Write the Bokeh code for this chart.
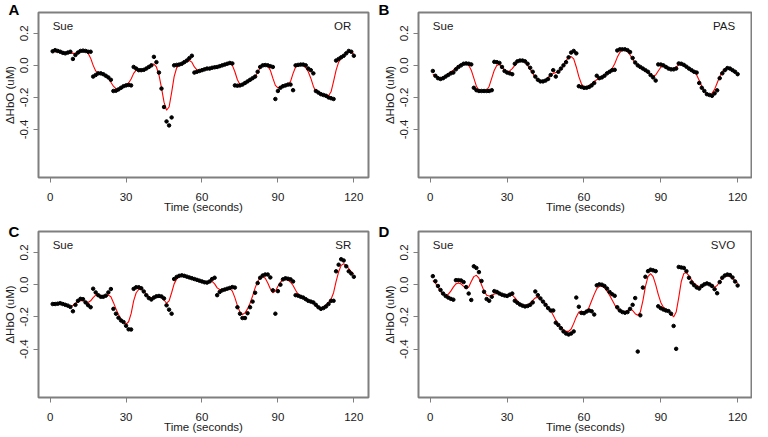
from bokeh.plotting import figure
from bokeh.models import ColumnDataSource, FixedTicker, PrintfTickFormatter, Range1d
from bokeh.layouts import column, row
from bokeh.core.properties import value
from bokeh.embed import file_html
from bokeh.resources import INLINE

# ---------------- data ----------------
time = list(range(1, 121))
x_ticks = [0, 30, 60, 90, 120]
y_ticks = [-0.4, -0.2, 0.0, 0.2]
subject = "Sue"
panel_letters = ["A", "B", "C", "D"]
conditions = ["OR", "PAS", "SR", "SVO"]

or_points = [0.088, 0.095, 0.09, 0.085, 0.078, 0.075, 0.08, 0.085, 0.04, 0.065,
             0.08, 0.09, 0.092, 0.09, 0.085, 0.085,
             -0.07, -0.06, -0.05, -0.05, -0.055, -0.065, -0.075, -0.09,
             -0.16, -0.158, -0.15, -0.14, -0.13, -0.125, -0.122, -0.125,
             -0.01, -0.02, -0.03, -0.03, -0.028, -0.02, -0.01, 0.0,
             0.053, 0.02, -0.045, -0.145, -0.26, -0.35, -0.375, -0.325,
             0.0, 0.003, 0.005, 0.01, 0.02, 0.03, 0.045, 0.06,
             -0.045, -0.04, -0.035, -0.03, -0.025, -0.02, -0.02, -0.015, -0.012, -0.01, -0.005, 0.0, 0.005, 0.01, 0.015, 0.012,
             -0.125, -0.127, -0.125, -0.12, -0.11, -0.1, -0.09, -0.08, -0.07, -0.04,
             -0.01, 0.0, 0.002, 0.0, -0.005, -0.01,
             -0.21, -0.16, -0.14, -0.13, -0.125, -0.12, -0.12, -0.155,
             0.0, 0.003, 0.005, 0.005, 0.0, -0.02, -0.03, -0.05,
             -0.16, -0.17, -0.18, -0.185, -0.19, -0.2, -0.205, -0.21,
             0.03, 0.04, 0.05, 0.06, 0.075, 0.09, 0.085, 0.06]
or_fit = [0.085, 0.085, 0.083, 0.08, 0.078, 0.077, 0.077, 0.077, 0.075, 0.075,
          0.08, 0.087, 0.09, 0.088, 0.075, 0.045, 0.0, -0.035, -0.05, -0.055,
          -0.058, -0.065, -0.08, -0.105, -0.13, -0.145, -0.148, -0.14, -0.13, -0.12,
          -0.11, -0.085, -0.05, -0.03, -0.028, -0.03, -0.025, -0.015, -0.005, 0.005,
          0.008, -0.01, -0.06, -0.14, -0.23, -0.28, -0.26, -0.17, -0.07, -0.015,
          0.0, 0.005, 0.015, 0.025, 0.03, 0.02, -0.01, -0.028, -0.03, -0.025,
          -0.022, -0.02, -0.018, -0.015, -0.012, -0.008, -0.004, 0.0, 0.005, 0.01,
          0.012, 0.0, -0.04, -0.09, -0.12, -0.122, -0.115, -0.105, -0.095, -0.085,
          -0.07, -0.045, -0.015, 0.0, 0.002, -0.005, -0.03, -0.08, -0.125, -0.14,
          -0.135, -0.128, -0.123, -0.118, -0.1, -0.05, -0.01, 0.003, 0.005, 0.0,
          -0.015, -0.04, -0.08, -0.13, -0.165, -0.175, -0.18, -0.185, -0.19, -0.19,
          -0.165, -0.1, -0.03, 0.02, 0.045, 0.06, 0.075, 0.085, 0.08, 0.07]

pas_points = [-0.035, -0.065, -0.08, -0.085, -0.08, -0.07, -0.06, -0.05, -0.045, -0.025,
              -0.01, 0.0, 0.01, 0.012, 0.01, 0.006,
              -0.14, -0.155, -0.16, -0.16, -0.16, -0.16, -0.16, -0.155,
              0.022, 0.02, 0.015, -0.01, -0.035, -0.045, -0.05, -0.055,
              0.01, 0.025, 0.03, 0.03, 0.025, 0.01, -0.015, -0.04,
              -0.07, -0.09, -0.1, -0.1, -0.095, -0.085, -0.06, -0.03,
              -0.07, -0.04, -0.02, 0.0, 0.02, 0.05, 0.08, 0.09, 0.075,
              -0.13, -0.135, -0.14, -0.14, -0.135, -0.125, -0.11, -0.065,
              -0.08, -0.075, -0.065, -0.05, -0.04, -0.03, -0.028,
              0.093, 0.1, 0.1, 0.1, 0.095, 0.083, 0.046, 0.018,
              0.0, -0.01, -0.02, -0.03, -0.04, -0.06, -0.075, -0.095,
              0.006, 0.005, 0.0, -0.01, -0.02, -0.025, -0.025, -0.02,
              0.012, 0.01, 0.003, -0.008, -0.02, -0.03, -0.04, -0.045,
              -0.11, -0.14, -0.16, -0.18, -0.185, -0.19, -0.175, -0.156,
              -0.08, -0.05, -0.03, -0.017, -0.02, -0.03, -0.04, -0.055]
pas_fit = [-0.055, -0.065, -0.075, -0.078, -0.075, -0.068, -0.055, -0.04, -0.03, -0.015,
           -0.005, 0.005, 0.01, 0.01, 0.0, -0.03, -0.08, -0.13, -0.155, -0.16,
           -0.16, -0.155, -0.13, -0.08, -0.03, 0.0, 0.005, -0.01, -0.03, -0.04,
           -0.035, -0.02, 0.0, 0.02, 0.03, 0.03, 0.02, 0.0, -0.025, -0.05,
           -0.075, -0.09, -0.1, -0.1, -0.09, -0.075, -0.06, -0.05, -0.045, -0.04,
           -0.025, 0.0, 0.03, 0.05, 0.055, 0.04, -0.01, -0.07, -0.115, -0.135,
           -0.135, -0.125, -0.115, -0.1, -0.09, -0.08, -0.072, -0.062, -0.05, -0.035,
           -0.02, 0.01, 0.05, 0.08, 0.095, 0.095, 0.085, 0.065, 0.04, 0.015,
           -0.003, -0.015, -0.025, -0.035, -0.045, -0.058, -0.068, -0.06, -0.035, -0.012,
           -0.005, -0.01, -0.018, -0.022, -0.02, -0.01, 0.003, 0.005, 0.0, -0.01,
           -0.02, -0.03, -0.04, -0.06, -0.095, -0.13, -0.16, -0.178, -0.183, -0.175,
           -0.15, -0.11, -0.07, -0.04, -0.022, -0.017, -0.02, -0.03, -0.04, -0.05]

sr_points = [-0.12, -0.12, -0.118, -0.115, -0.12, -0.125, -0.13, -0.138, -0.165, -0.125,
             -0.1, -0.088, -0.09, -0.11, -0.127, -0.14,
             -0.025, -0.048, -0.065, -0.075, -0.075, -0.068, -0.048, -0.027,
             -0.15, -0.18, -0.205, -0.222, -0.232, -0.255, -0.277, -0.278,
             -0.026, -0.016, -0.016, -0.022, -0.042, -0.065, -0.083, -0.092,
             -0.08, -0.072, -0.07, -0.073, -0.085, -0.128, -0.155, -0.18,
             0.035, 0.048, 0.055, 0.058, 0.055, 0.05, 0.045, 0.04, 0.035, 0.03,
             0.025, 0.02, 0.015, 0.013, 0.02, 0.035, 0.043,
             -0.065, -0.045, -0.035, -0.03, -0.025, -0.02, -0.015, -0.018,
             -0.14, -0.18, -0.207, -0.207, -0.177, -0.14, -0.105, -0.05, 0.01, 0.043,
             0.057, 0.063, 0.063, 0.045, -0.035, -0.18, -0.04, 0.0,
             0.033, 0.04, 0.037, 0.033, 0.02,
             -0.065, -0.068, -0.075, -0.08, -0.09, -0.1, -0.105, -0.11, -0.125, -0.14,
             -0.15, -0.145, -0.135, -0.12, -0.1, -0.1,
             0.083, 0.124, 0.158, 0.15, 0.114, 0.083, 0.069, 0.049]
sr_fit = [-0.12, -0.12, -0.118, -0.118, -0.12, -0.125, -0.13, -0.135, -0.13, -0.115,
          -0.105, -0.1, -0.1, -0.105, -0.11, -0.1, -0.08, -0.065, -0.063, -0.068,
          -0.07, -0.068, -0.065, -0.075, -0.11, -0.15, -0.185, -0.215, -0.235, -0.245,
          -0.23, -0.18, -0.1, -0.05, -0.03, -0.028, -0.04, -0.06, -0.075, -0.082,
          -0.08, -0.078, -0.078, -0.08, -0.095, -0.115, -0.1, -0.05, 0.005, 0.035,
          0.05, 0.055, 0.052, 0.048, 0.043, 0.038, 0.033, 0.028, 0.022, 0.017,
          0.012, 0.012, 0.018, 0.02, 0.005, -0.02, -0.03, -0.028, -0.025, -0.022,
          -0.025, -0.04, -0.08, -0.13, -0.17, -0.185, -0.175, -0.15, -0.115, -0.07,
          -0.02, 0.02, 0.045, 0.05, 0.04, 0.01, -0.025, -0.05, -0.04, -0.01,
          0.015, 0.03, 0.033, 0.028, 0.015, -0.005, -0.035, -0.06, -0.07, -0.08,
          -0.088, -0.095, -0.105, -0.115, -0.128, -0.14, -0.148, -0.14, -0.125, -0.11,
          -0.09, -0.05, 0.02, 0.08, 0.12, 0.13, 0.12, 0.1, 0.08, 0.065]

svo_points = [0.053, 0.022, -0.008, -0.033, -0.055, -0.07, -0.08, -0.088, -0.093,
              0.028, 0.028, 0.026, 0.016, -0.015, -0.055, -0.095,
              0.114, 0.104, 0.078, 0.023, -0.044, -0.089, -0.1, -0.075,
              -0.04, -0.045, -0.055, -0.062, -0.067, -0.07, -0.062, -0.055,
              -0.1, -0.112, -0.123, -0.13, -0.135, -0.132, -0.125, -0.11,
              -0.042, -0.065, -0.085, -0.105, -0.125, -0.145, -0.16, -0.16,
              -0.236, -0.25, -0.27, -0.29, -0.303, -0.309, -0.303, -0.29,
              -0.08, -0.137, -0.175, -0.177, -0.167, -0.16, -0.165, -0.185,
              -0.004, 0.002, 0.0, -0.008, -0.024, -0.045, -0.059, -0.069,
              -0.14, -0.16, -0.17, -0.174, -0.17, -0.15, -0.125, -0.083, -0.415, -0.19,
              -0.018, 0.049, 0.084, 0.093, 0.089, 0.084,
              -0.134, -0.146, -0.154, -0.16, -0.164, -0.18, -0.256, -0.398,
              0.11, 0.107, 0.104, 0.084, 0.043, 0.014, -0.003, -0.017, -0.024,
              -0.008, 0.002, 0.008, 0.002, -0.008, -0.028, -0.053,
              0.016, 0.043, 0.057, 0.063, 0.06, 0.045, 0.02, -0.005]
svo_fit = [0.025, 0.01, -0.015, -0.04, -0.06, -0.068, -0.06, -0.04, -0.015, 0.005,
           0.01, 0.005, -0.01, -0.025, -0.015, 0.02, 0.05, 0.058, 0.04, 0.0,
           -0.04, -0.065, -0.07, -0.065, -0.058, -0.055, -0.058, -0.062, -0.065, -0.065,
           -0.062, -0.065, -0.08, -0.1, -0.117, -0.127, -0.13, -0.125, -0.115, -0.098,
           -0.082, -0.08, -0.09, -0.105, -0.12, -0.14, -0.16, -0.19, -0.22, -0.245,
           -0.265, -0.28, -0.29, -0.29, -0.275, -0.24, -0.2, -0.17, -0.165, -0.17,
           -0.165, -0.14, -0.1, -0.06, -0.025, -0.01, -0.01, -0.02, -0.04, -0.065,
           -0.095, -0.125, -0.15, -0.165, -0.17, -0.17, -0.16, -0.15, -0.16, -0.18,
           -0.19, -0.17, -0.1, -0.01, 0.05, 0.068, 0.05, 0.0, -0.06, -0.11,
           -0.14, -0.15, -0.16, -0.18, -0.2, -0.17, -0.08, 0.02, 0.07, 0.075,
           0.055, 0.03, 0.01, -0.003, -0.012, -0.01, 0.0, 0.005, 0.005, -0.003,
           -0.015, -0.005, 0.02, 0.04, 0.052, 0.055, 0.05, 0.04, 0.025, 0.01]

all_points = [or_points, pas_points, sr_points, svo_points]
all_fits = [or_fit, pas_fit, sr_fit, svo_fit]

FONT = "Liberation Sans"
GRAY = "#7f7f7f"
TXT = "#1a1a1a"
X0, X1 = -4.6, 125.8
Y0, Y1 = -0.70, 0.33


def make_panel(i, width, height, bl, br, bt, bb, title_standoff):
    p = figure(width=width, height=height, output_backend="svg", toolbar_location=None,
               x_range=Range1d(X0, X1), y_range=Range1d(Y0, Y1),
               min_border_left=bl, min_border_right=br, min_border_top=bt, min_border_bottom=bb)
    p.grid.visible = False
    p.outline_line_color = GRAY
    p.outline_line_width = 2
    p.background_fill_color = "white"
    p.border_fill_color = "white"

    # panel letter as the figure title, pushed to the figure's left edge
    p.title.text = panel_letters[i]
    p.title.align = "left"
    p.title.vertical_align = "bottom"
    p.title.offset = -(bl - 2)
    p.title.standoff = title_standoff
    p.title.text_font = FONT
    p.title.text_font_size = "15px"
    p.title.text_font_style = "bold"
    p.title.text_color = "black"

    src = ColumnDataSource(dict(t=time, y=all_points[i], f=all_fits[i]))
    p.line("t", "f", source=src, line_color="red", line_width=1.1)
    p.scatter("t", "y", source=src, marker="circle", size=3.5, fill_color="black", line_color="black")

    p.text(x=[1], y=[0.245], text=[subject], text_font=value(FONT), text_font_size="11.5px",
           text_align="left", text_baseline="middle", text_color=TXT)
    p.text(x=[119], y=[0.245], text=[conditions[i]], text_font=value(FONT), text_font_size="11.5px",
           text_align="right", text_baseline="middle", text_color=TXT)

    for ax in (p.xaxis[0], p.yaxis[0]):
        ax.axis_line_color = None
        ax.major_tick_line_color = GRAY
        ax.major_tick_line_width = 1
        ax.major_tick_in = 0
        ax.major_tick_out = 5
        ax.minor_tick_line_color = None
        ax.major_label_text_font = FONT
        ax.major_label_text_font_size = "11.5px"
        ax.major_label_text_color = TXT
        ax.axis_label_text_font = FONT
        ax.axis_label_text_font_size = "11.5px"
        ax.axis_label_text_font_style = "normal"
        ax.axis_label_text_color = TXT

    p.xaxis.ticker = FixedTicker(ticks=x_ticks)
    p.yaxis.ticker = FixedTicker(ticks=y_ticks)
    p.yaxis.formatter = PrintfTickFormatter(format="%.1f")
    p.yaxis.major_label_orientation = "vertical"
    p.xaxis.axis_label = "Time (seconds)"
    p.yaxis.axis_label = "\u0394HbO (uM)"
    p.xaxis.major_label_standoff = 10
    p.xaxis.axis_label_standoff = -3
    p.yaxis.major_label_standoff = 5
    p.yaxis.axis_label_standoff = 2
    return p


pA = make_panel(0, 376, 215, 32, 8, 12, 34, -10)
pB = make_panel(1, 376, 215, 42, 0, 12, 34, -10)
pC = make_panel(2, 376, 220, 32, 8, 16, 35, -16)
pD = make_panel(3, 376, 220, 42, 0, 16, 35, -16)

layout = column(row(pA, pB), row(pC, pD))
open("out.html", "w").write(file_html(layout, INLINE))
